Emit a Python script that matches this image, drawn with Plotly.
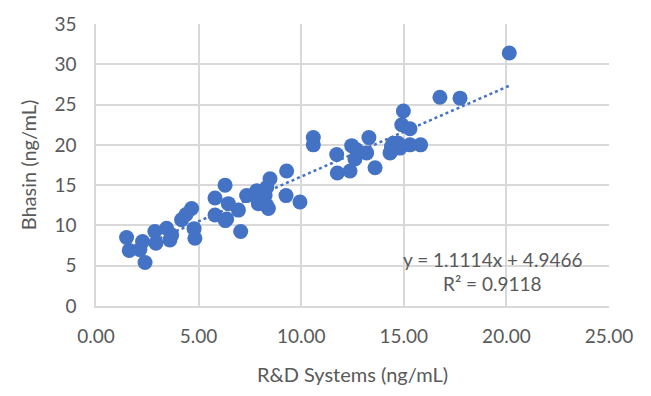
import plotly.graph_objects as go

# R&D Systems (ng/mL)
rd = [1.49, 1.62, 2.14, 2.27, 2.39, 2.87, 2.92, 3.44, 3.60, 3.69, 4.17, 4.39, 4.66, 4.78, 4.82,
      5.80, 5.80, 6.29, 6.37, 6.45, 6.94, 7.05, 7.34, 7.83, 7.91, 8.24, 8.32, 8.40, 8.48, 8.32,
      7.95, 8.10, 6.30, 9.26, 9.29, 9.94, 10.59, 10.59, 11.73, 11.76, 12.38, 12.46, 12.62, 12.70,
      13.19, 13.30, 13.60, 14.33, 14.40, 14.49, 14.73, 14.81, 14.90, 14.98, 15.30, 15.30, 15.82,
      16.76, 17.74, 20.14]
# Bhasin (ng/mL)
bhasin = [8.5, 6.9, 7.0, 8.0, 5.4, 9.25, 7.8, 9.65, 8.2, 8.8, 10.7, 11.35, 12.1, 9.6, 8.4,
          13.4, 11.3, 15.0, 10.8, 12.7, 11.9, 9.25, 13.7, 14.3, 12.7, 13.7, 12.5, 12.1, 15.8, 14.7,
          13.2, 14.0, 10.6, 13.7, 16.75, 12.9, 20.9, 20.0, 18.8, 16.5, 16.75, 19.9, 18.25, 19.4,
          19.0, 20.9, 17.15, 19.0, 19.8, 20.2, 20.2, 19.6, 22.5, 24.2, 22.0, 20.0, 20.0,
          25.9, 25.8, 31.4]

slope, intercept, r2 = 1.1114, 4.9466, 0.9118
x_ticks = [0, 5, 10, 15, 20, 25]
y_ticks = [0, 5, 10, 15, 20, 25, 30, 35]

FONT = "Lato"
GRAY = "#595959"
GRID = "#d9d9d9"
BLUE = "#4472C4"

fig = go.Figure()
x0, x1 = min(rd), max(rd)
fig.add_trace(go.Scatter(
    x=[x0, x1], y=[slope * x0 + intercept, slope * x1 + intercept],
    mode="lines", line=dict(color=BLUE, width=2.5, dash="dot"),
    hoverinfo="skip", showlegend=False))
fig.add_trace(go.Scatter(
    x=rd, y=bhasin, mode="markers",
    marker=dict(color=BLUE, size=15, line=dict(width=0)),
    showlegend=False))

fig.add_annotation(x=0.772, y=0.166, xref="paper", yref="paper",
                   text=f"y = {slope}x + {intercept}", showarrow=False,
                   font=dict(family=FONT, size=19, color=GRAY), xanchor="center", yanchor="middle")
fig.add_annotation(x=0.772, y=0.080, xref="paper", yref="paper",
                   text=f"R² = {r2}", showarrow=False,
                   font=dict(family=FONT, size=19, color=GRAY), xanchor="center", yanchor="middle")

fig.update_layout(
    width=651, height=396,
    margin=dict(l=96, r=42, t=18, b=90),
    paper_bgcolor="white", plot_bgcolor="white",
    font=dict(family=FONT, size=19, color=GRAY),
    xaxis=dict(range=[0, 25], tickvals=x_ticks, tickformat=".2f",
               showgrid=True, gridcolor=GRID, gridwidth=1.5,
               showline=True, linecolor=GRID, linewidth=1.5, zeroline=False,
               ticks="", ticklabelstandoff=12, tickfont=dict(family=FONT, size=19, color=GRAY),
               title=dict(text="R&D Systems (ng/mL)", font=dict(family=FONT, size=20, color=GRAY), standoff=22)),
    yaxis=dict(range=[0, 35], tickvals=y_ticks,
               showgrid=True, gridcolor=GRID, gridwidth=1.5,
               showline=True, linecolor=GRID, linewidth=1.5, zeroline=False,
               ticks="", ticklabelstandoff=14, tickfont=dict(family=FONT, size=19, color=GRAY),
               title=dict(text="Bhasin (ng/mL)", font=dict(family=FONT, size=20, color=GRAY), standoff=12)),
)

fig.write_html("out.html")
